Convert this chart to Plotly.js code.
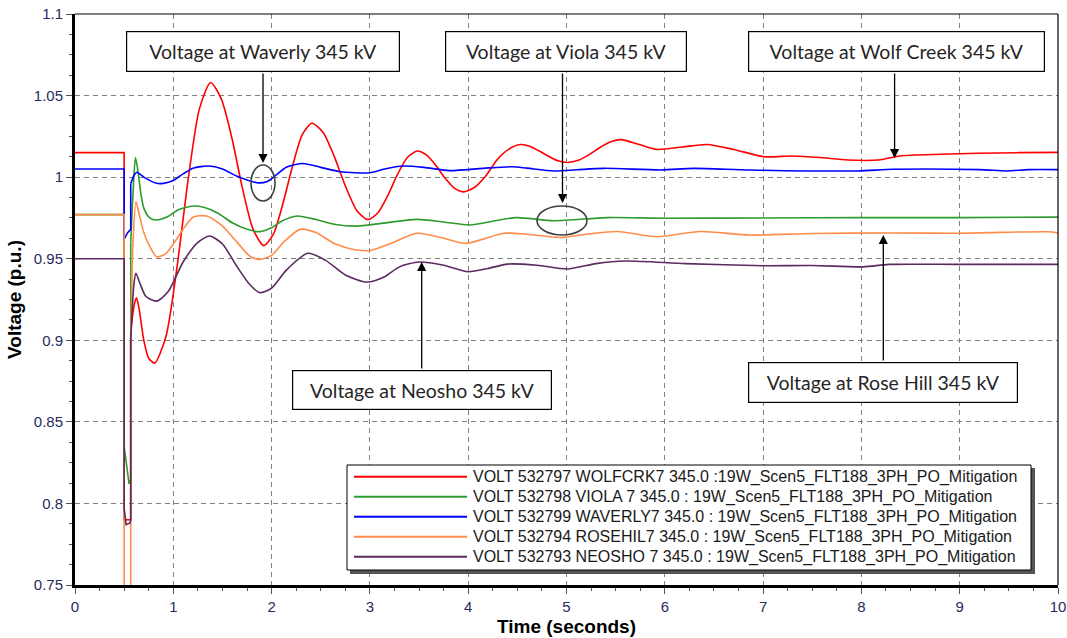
<!DOCTYPE html>
<html><head><meta charset="utf-8">
<script src="https://cdn.plot.ly/plotly-3.0.1.min.js"></script>
<style>html,body{margin:0;padding:0;background:#fff}#chart{width:1067px;height:638px}</style>
</head><body><div id="chart"></div>
<script>
// ---- data ----
const seriesNames = [
  "VOLT 532797 WOLFCRK7 345.0 :19W_Scen5_FLT188_3PH_PO_Mitigation",
  "VOLT 532798 VIOLA 7 345.0 : 19W_Scen5_FLT188_3PH_PO_Mitigation",
  "VOLT 532799 WAVERLY7 345.0 : 19W_Scen5_FLT188_3PH_PO_Mitigation",
  "VOLT 532794 ROSEHIL7 345.0 : 19W_Scen5_FLT188_3PH_PO_Mitigation",
  "VOLT 532793 NEOSHO 7 345.0 : 19W_Scen5_FLT188_3PH_PO_Mitigation"
];
const seriesColors = ["#FF0000", "#2E9B2E", "#0000FF", "#FF8C4A", "#5B2A5E"];

const wolfT = [0,0.5,0.5,0.567,0.567,0.6,0.625,0.65,0.7,0.75,0.81,0.924,1.038,1.152,1.266,1.38,1.488,1.596,1.704,1.812,1.92,2.018,2.116,2.214,2.312,2.41,2.524,2.638,2.752,2.866,2.98,3.08,3.18,3.28,3.38,3.48,3.574,3.668,3.762,3.856,3.95,4.066,4.182,4.298,4.414,4.53,4.626,4.722,4.818,4.914,5.01,5.12,5.23,5.34,5.45,5.56,5.74,5.92,6.18,6.43,6.7,7.01,7.3,7.58,7.86,8.17,8.39,8.8,9.19,9.6,10];
const wolfV = [1.015,1.015,0.79,0.79,0.905,0.921,0.926,0.92,0.9,0.889,0.886,0.902,0.945,0.999,1.042,1.058,1.048,1.024,0.993,0.968,0.958,0.965,0.984,1.007,1.026,1.033,1.0274,1.0126,0.9944,0.9796,0.974,0.978,0.9885,1.0015,1.012,1.016,1.0136,1.0074,0.9996,0.9934,0.991,0.9938,1.001,1.011,1.0172,1.020,1.019,1.016,1.0128,1.010,1.009,1.0103,1.0138,1.0182,1.0217,1.023,1.020,1.017,1.0185,1.020,1.017,1.0125,1.013,1.012,1.0105,1.0105,1.013,1.014,1.0146,1.015,1.0152];

const violaT = [0,0.5,0.5,0.53,0.55,0.567,0.567,0.59,0.615,0.64,0.67,0.70,0.76,0.83,0.95,1.05,1.2,1.31,1.45,1.6,1.75,1.88,2.0,2.1,2.26,2.45,2.65,2.87,3.1,3.48,3.75,4.02,4.25,4.49,4.87,5.41,6.0,7.0,8.0,9.0,10];
const violaV = [0.977,0.977,0.835,0.82,0.812,0.815,0.96,0.99,1.012,1.004,0.99,0.981,0.975,0.9737,0.976,0.98,0.9823,0.9815,0.978,0.972,0.968,0.9666,0.969,0.973,0.9762,0.974,0.971,0.97,0.9715,0.9741,0.9725,0.9707,0.973,0.9752,0.9733,0.9752,0.9748,0.975,0.9752,0.9752,0.9755];

const waverlyT = [0,0.5,0.5,0.535,0.567,0.567,0.6,0.63,0.7,0.83,0.9,1.0,1.1,1.2,1.36,1.5,1.65,1.85,1.95,2.05,2.15,2.32,2.5,2.7,3.0,3.15,3.34,3.55,3.81,4.15,4.45,4.6,4.87,5.1,5.38,5.96,6.29,6.87,7.96,8.32,9.2,9.48,9.7,10];
const waverlyV = [1.005,1.005,0.962,0.966,0.968,0.996,1.001,1.003,1.0,0.9962,0.9962,0.998,1.002,1.0055,1.0068,1.005,1.0005,0.9966,0.9972,1.0015,1.006,1.0084,1.006,1.0033,1.0027,1.005,1.0068,1.006,1.004,1.0054,1.0064,1.0055,1.0038,1.0045,1.0054,1.0044,1.0054,1.0044,1.0038,1.0048,1.0046,1.0038,1.0046,1.0046];

const roseT = [0,0.5,0.5,0.567,0.567,0.59,0.62,0.65,0.7,0.76,0.83,0.92,1.0,1.1,1.2,1.34,1.5,1.65,1.78,1.88,2.0,2.12,2.29,2.45,2.65,2.85,3.0,3.2,3.48,3.75,3.98,4.15,4.36,4.6,4.94,5.2,5.52,5.92,6.36,6.87,7.5,8.3,9.0,9.3,9.9,10];
const roseV = [0.977,0.977,0.70,0.70,0.90,0.96,0.985,0.978,0.966,0.9575,0.9512,0.953,0.959,0.968,0.9754,0.9762,0.970,0.960,0.9515,0.9496,0.952,0.96,0.968,0.966,0.959,0.9555,0.955,0.959,0.9656,0.9625,0.9594,0.962,0.9656,0.965,0.963,0.965,0.9667,0.9635,0.9667,0.9645,0.9655,0.9658,0.9656,0.966,0.9665,0.9658];

const neoshoT = [0,0.5,0.5,0.52,0.56,0.567,0.567,0.6,0.62,0.66,0.72,0.83,0.95,1.1,1.25,1.37,1.5,1.65,1.78,1.88,2.0,2.15,2.37,2.55,2.75,2.97,3.15,3.3,3.5,3.75,4.0,4.2,4.4,4.7,5.01,5.3,5.6,6.21,7.01,7.5,8.02,8.28,9.0,10];
const neoshoV = [0.95,0.95,0.797,0.787,0.788,0.79,0.90,0.935,0.941,0.935,0.927,0.924,0.93,0.948,0.96,0.9639,0.959,0.945,0.934,0.9292,0.932,0.943,0.9533,0.949,0.94,0.9357,0.939,0.945,0.948,0.946,0.942,0.944,0.9467,0.946,0.9437,0.947,0.9486,0.947,0.9457,0.9458,0.945,0.9465,0.9465,0.9465];

const seriesT = [wolfT, violaT, waverlyT, roseT, neoshoT];
const seriesV = [wolfV, violaV, waverlyV, roseV, neoshoV];

const xTickVals = [0,1,2,3,4,5,6,7,8,9,10];
const yTickVals = [0.75,0.8,0.85,0.9,0.95,1,1.05,1.1];

const calloutTexts = ["Voltage at Waverly 345 kV", "Voltage at Viola 345 kV", "Voltage at Wolf Creek 345 kV", "Voltage at Neosho 345 kV", "Voltage at Rose Hill 345 kV"];

// ---- geometry helpers (layout only) ----
const W = 1067, H = 638, ML = 75, MR = 9, MT = 14, MB = 53;
const PW = W - ML - MR, PH = H - MT - MB;
const px2paperX = p => (p - ML) / PW;
const px2paperY = p => (H - MB - p) / PH;

// ---- traces ----
const traces = [];
seriesT.forEach((t, s) => {
  const v = seriesV[s];
  // last duplicated time = point where the fault is cleared
  let k = 0;
  for (let i = 1; i < t.length; i++) if (t[i] === t[i - 1]) k = i;
  traces.push({x: t.slice(0, k + 1), y: v.slice(0, k + 1), type: 'scatter', mode: 'lines',
    name: seriesNames[s], showlegend: false, hoverinfo: 'skip',
    line: {color: seriesColors[s], width: 1.6, shape: 'linear'}});
  traces.push({x: t.slice(k), y: v.slice(k), type: 'scatter', mode: 'lines',
    name: seriesNames[s], showlegend: false, hoverinfo: 'skip',
    line: {color: seriesColors[s], width: 1.6, shape: 'spline', smoothing: 0.7}});
});

// ---- shapes ----
const shapes = [];
// top & right thin frame
shapes.push({type: 'line', xref: 'paper', yref: 'paper', x0: 0, x1: 1, y0: 1, y1: 1, line: {color: '#000', width: 1.2}});
shapes.push({type: 'line', xref: 'paper', yref: 'paper', x0: 1, x1: 1, y0: 0, y1: 1, line: {color: '#000', width: 1.2}});
// ellipses
shapes.push({type: 'circle', xref: 'paper', yref: 'paper', x0: px2paperX(251), x1: px2paperX(275), y0: px2paperY(201), y1: px2paperY(165), line: {color: '#404040', width: 1.6}});
shapes.push({type: 'circle', xref: 'paper', yref: 'paper', x0: px2paperX(537), x1: px2paperX(587), y0: px2paperY(235), y1: px2paperY(206), line: {color: '#404040', width: 1.6}});
// legend box with shadow
shapes.push({type: 'rect', xref: 'paper', yref: 'paper', x0: px2paperX(350), x1: px2paperX(1035), y0: px2paperY(574), y1: px2paperY(468), line: {width: 0}, fillcolor: '#555'});
shapes.push({type: 'rect', xref: 'paper', yref: 'paper', x0: px2paperX(347), x1: px2paperX(1031), y0: px2paperY(570), y1: px2paperY(465), line: {color: '#000', width: 1}, fillcolor: '#fff'});

const annotations = [];
const rowY = [476.7, 496.7, 516.7, 536.7, 556.7];
seriesNames.forEach((nm, s) => {
  shapes.push({type: 'line', xref: 'paper', yref: 'paper', x0: px2paperX(354), x1: px2paperX(467), y0: px2paperY(rowY[s]), y1: px2paperY(rowY[s]), line: {color: seriesColors[s], width: 2}});
  annotations.push({xref: 'paper', yref: 'paper', x: px2paperX(471), y: px2paperY(rowY[s]), xanchor: 'left', yanchor: 'middle',
    text: nm, showarrow: false, font: {family: 'Liberation Sans, Arial, sans-serif', size: 16, color: '#1a1a1a'}});
});

// callout boxes: [centerX, centerY, width, height] in px
const boxes = [[263, 51.5, 274, 41], [566, 51.5, 242, 41], [896, 51.5, 297, 41], [422, 390, 260, 40], [883, 382.5, 270, 41]];
boxes.forEach((b, i) => {
  annotations.push({xref: 'paper', yref: 'paper', x: px2paperX(b[0]), y: px2paperY(b[1]), xanchor: 'center', yanchor: 'middle',
    text: calloutTexts[i], showarrow: false, width: b[2] - 10, height: b[3] - 10, borderpad: 4, align: 'center', valign: 'middle',
    bordercolor: '#000', borderwidth: 1.2, bgcolor: '#fff',
    font: {family: 'Lato, Open Sans, sans-serif', size: 19.5, color: '#262626'}});
});
// arrows: [tipX, tipY, tailY] in px
const arrows = [[263, 163, 72], [562.5, 203, 72], [894.6, 158, 72], [421.7, 262, 370], [883.3, 235, 362]];
arrows.forEach(a => {
  annotations.push({xref: 'paper', yref: 'paper', x: px2paperX(a[0]), y: px2paperY(a[1]), ax: 0, ay: a[2] - a[1],
    text: '', showarrow: true, arrowhead: 2, arrowsize: 1.4, arrowwidth: 1.3, arrowcolor: '#000', standoff: 0});
});

const tickFont = {family: 'Liberation Sans, Arial, sans-serif', size: 15, color: '#2a2a5e'};
const layout = {
  width: W, height: H,
  margin: {l: ML, r: MR, t: MT, b: MB, pad: 0},
  paper_bgcolor: '#fff', plot_bgcolor: '#fff',
  showlegend: false,
  xaxis: {
    range: [0, 10], tickvals: xTickVals, ticktext: xTickVals.map(String),
    showgrid: true, gridcolor: '#808080', gridwidth: 1, griddash: '5px,4px',
    zeroline: false, showline: true, linecolor: '#000', linewidth: 3,
    ticks: 'outside', ticklen: 6, tickwidth: 1, tickcolor: '#555',
    minor: {dtick: 0.25, ticks: 'outside', ticklen: 3, tickcolor: '#555', showgrid: false},
    tickfont: tickFont,
    title: {text: 'Time (seconds)', font: {family: 'Liberation Sans, Arial, sans-serif', size: 19, color: '#000', weight: 'bold'}, standoff: 6}
  },
  yaxis: {
    range: [0.75, 1.1], tickvals: yTickVals, ticktext: yTickVals.map(v => String(+v.toFixed(2))),
    showgrid: true, gridcolor: '#808080', gridwidth: 1, griddash: '5px,4px',
    zeroline: false, showline: true, linecolor: '#000', linewidth: 3,
    ticks: 'outside', ticklen: 6, tickwidth: 1, tickcolor: '#555',
    minor: {dtick: 0.0125, ticks: 'outside', ticklen: 3, tickcolor: '#555', showgrid: false},
    tickfont: tickFont,
    title: {text: 'Voltage (p.u.)', font: {family: 'Liberation Sans, Arial, sans-serif', size: 19, color: '#000', weight: 'bold'}, standoff: 8}
  },
  shapes: shapes,
  annotations: annotations
};
Plotly.newPlot('chart', traces, layout, {staticPlot: true, displayModeBar: false});
</script></body></html>
